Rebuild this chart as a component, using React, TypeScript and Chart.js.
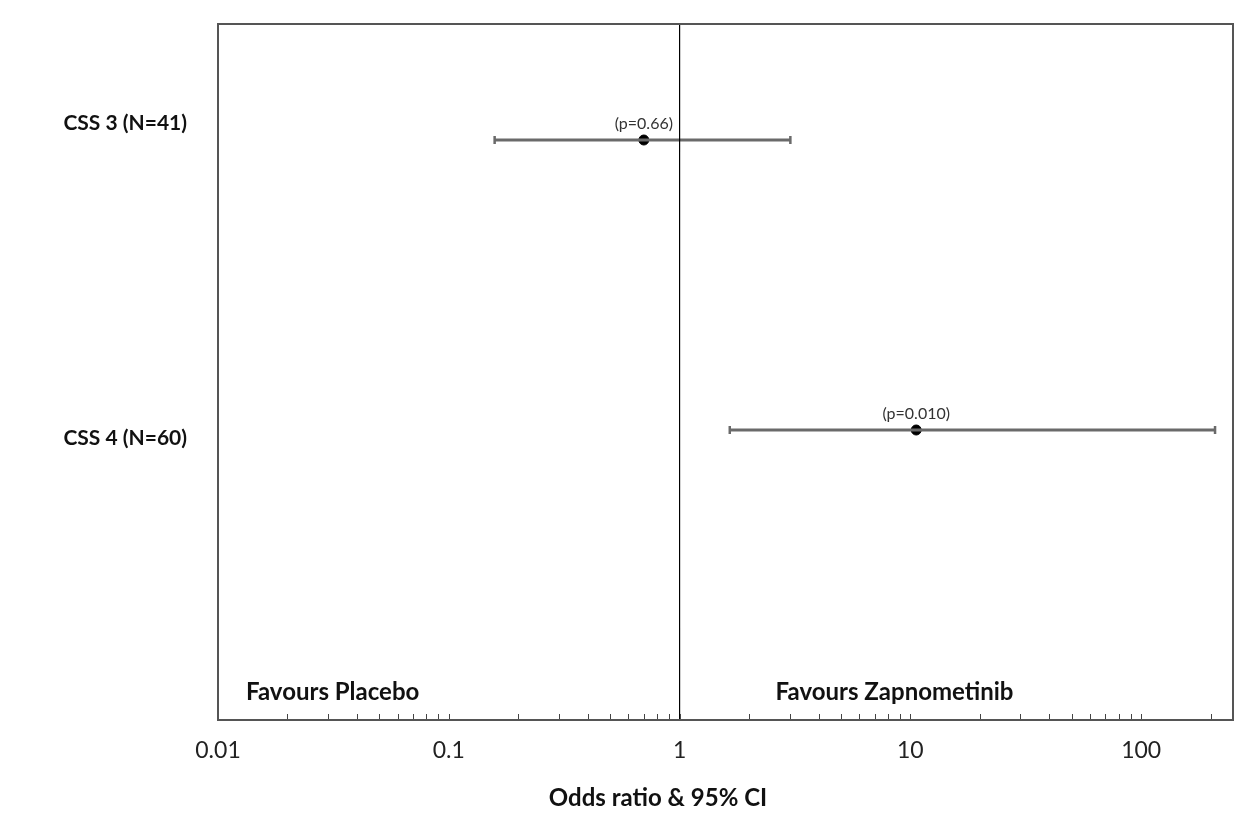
import React, { useEffect, useRef } from "react";
import { Chart, registerables } from "chart.js";

Chart.register(...registerables);

const categories = ["CSS 3 (N=41)", "CSS 4 (N=60)"];
const oddsRatios = [0.7, 10.6];
const ciLower = [0.158, 1.65];
const ciUpper = [3.02, 209];
const pLabels = ["(p=0.66)", "(p=0.010)"];
const majorTicks = [0.01, 0.1, 1, 10, 100];
const xMin = 0.01;
const xMax = 250;
const yMin = 0.6;
const yMax = 3;
const refValue = 1;
const xTitle = "Odds ratio & 95% CI";
const leftNote = "Favours Placebo";
const rightNote = "Favours Zapnometinib";

const FONT = "Lato, 'Open Sans', sans-serif";
const CI_COLOR = "#6a6a6a";
const labelOffsets = [-17, 8];

export default function App() {
  const ref = useRef<HTMLCanvasElement | null>(null);
  useEffect(() => {
    if (!ref.current) return;
    const ciSets = categories.map((c, i) => ({
      type: "line" as const,
      label: c,
      data: [
        { x: ciLower[i], y: i + 1 },
        { x: ciUpper[i], y: i + 1 },
      ],
      showLine: true,
      borderColor: CI_COLOR,
      borderWidth: 3,
      pointStyle: "line" as const,
      rotation: 90,
      pointRadius: 4,
      pointBorderWidth: 2.5,
      pointBorderColor: CI_COLOR,
      pointBackgroundColor: CI_COLOR,
    }));
    const allTicks: number[] = [];
    for (let p = -2; p <= 2; p++) {
      for (let m = 1; m <= 9; m++) {
        const v = m * Math.pow(10, p);
        if (v >= xMin && v <= xMax) allTicks.push(v);
      }
    }
    const overlay = {
      id: "overlay",
      afterDraw(chart: any) {
        const ctx = chart.ctx;
        const { left, right, top, bottom } = chart.chartArea;
        const xs = chart.scales.x;
        const ys = chart.scales.y;
        ctx.save();
        ctx.strokeStyle = "#444";
        ctx.lineWidth = 1;
        allTicks.forEach((v) => {
          const px = Math.round(xs.getPixelForValue(v)) + 0.5;
          ctx.beginPath();
          ctx.moveTo(px, bottom);
          ctx.lineTo(px, bottom - 6);
          ctx.stroke();
        });
        ctx.strokeStyle = "#555";
        ctx.lineWidth = 2;
        ctx.strokeRect(left, top, right - left, bottom - top);
        ctx.fillStyle = "#111";
        ctx.font = `bold 21px ${FONT}`;
        ctx.textAlign = "right";
        ctx.textBaseline = "middle";
        categories.forEach((c, i) => {
          ctx.fillText(c, left - 31, ys.getPixelForValue(i + 1) + labelOffsets[i]);
        });
        ctx.fillStyle = "#333";
        ctx.font = `16px ${FONT}`;
        ctx.textAlign = "center";
        pLabels.forEach((t, i) => {
          ctx.fillText(t, xs.getPixelForValue(oddsRatios[i]), ys.getPixelForValue(i + 1) - 16);
        });
        ctx.fillStyle = "#111";
        ctx.font = `bold 24px ${FONT}`;
        ctx.textAlign = "left";
        ctx.fillText(leftNote, left + 28, bottom - 28);
        ctx.fillText(rightNote, xs.getPixelForValue(refValue) + 96, bottom - 28);
        ctx.textAlign = "center";
        ctx.font = `bold 24px ${FONT}`;
        ctx.fillText(xTitle, 658, 798);
        ctx.restore();
      },
    };
    const chart = new Chart(ref.current, {
      type: "scatter",
      data: {
        datasets: [
          {
            type: "line" as const,
            label: "ref",
            data: [
              { x: refValue, y: yMin },
              { x: refValue, y: yMax },
            ],
            showLine: true,
            borderColor: "#000",
            borderWidth: 1,
            pointRadius: 0,
          },
          ...ciSets,
          {
            type: "scatter" as const,
            label: "OR",
            data: oddsRatios.map((v, i) => ({ x: v, y: i + 1 })),
            pointRadius: 5,
            pointBackgroundColor: "#000",
            pointBorderColor: "#000",
          },
        ] as any,
      },
      options: {
        animation: false,
        responsive: false,
        maintainAspectRatio: false,
        layout: { autoPadding: false, padding: { top: 24, right: 15, left: 0, bottom: 0 } },
        plugins: { legend: { display: false }, tooltip: { enabled: false } },
        scales: {
          x: {
            type: "logarithmic",
            min: xMin,
            max: xMax,
            grid: { display: false },
            border: { display: false },
            afterBuildTicks: (s: any) => {
              s.ticks = majorTicks.map((v) => ({ value: v }));
            },
            afterFit: (s: any) => {
              s.height = 99;
            },
            ticks: {
              autoSkip: false,
              maxRotation: 0,
              padding: 9,
              color: "#222",
              font: { family: FONT, size: 23 },
              callback: (v: any) => String(v),
            },
          },
          y: {
            type: "linear",
            min: yMin,
            max: yMax,
            reverse: true,
            grid: { display: false },
            border: { display: false },
            afterFit: (s: any) => {
              s.width = 218;
            },
            ticks: { display: false },
          },
        },
      },
      plugins: [overlay],
    } as any);
    return () => chart.destroy();
  }, []);
  return (
    <div style={{ position: "absolute", left: 0, top: 0, width: 1248, height: 819, background: "#fff" }}>
      <canvas ref={ref} width={1248} height={819} />
    </div>
  );
}
